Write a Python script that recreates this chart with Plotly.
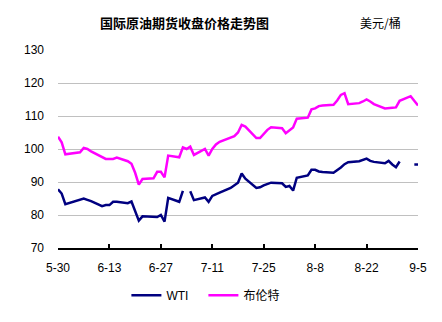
import plotly.graph_objects as go

# Trading days (weekdays) from 2012-05-30 to 2012-09-05
dates = [
    "2012-05-30", "2012-05-31", "2012-06-01",
    "2012-06-04", "2012-06-05", "2012-06-06", "2012-06-07", "2012-06-08",
    "2012-06-11", "2012-06-12", "2012-06-13", "2012-06-14", "2012-06-15",
    "2012-06-18", "2012-06-19", "2012-06-20", "2012-06-21", "2012-06-22",
    "2012-06-25", "2012-06-26", "2012-06-27", "2012-06-28", "2012-06-29",
    "2012-07-02", "2012-07-03", "2012-07-04", "2012-07-05", "2012-07-06",
    "2012-07-09", "2012-07-10", "2012-07-11", "2012-07-12", "2012-07-13",
    "2012-07-16", "2012-07-17", "2012-07-18", "2012-07-19", "2012-07-20",
    "2012-07-23", "2012-07-24", "2012-07-25", "2012-07-26", "2012-07-27",
    "2012-07-30", "2012-07-31", "2012-08-01", "2012-08-02", "2012-08-03",
    "2012-08-06", "2012-08-07", "2012-08-08", "2012-08-09", "2012-08-10",
    "2012-08-13", "2012-08-14", "2012-08-15", "2012-08-16", "2012-08-17",
    "2012-08-20", "2012-08-21", "2012-08-22", "2012-08-23", "2012-08-24",
    "2012-08-27", "2012-08-28", "2012-08-29", "2012-08-30", "2012-08-31",
    "2012-09-03", "2012-09-04", "2012-09-05",
]

wti = [
    87.8, 86.5, 83.3,
    84.2, 84.6, 85.0, 84.6, 84.2,
    82.7, 83.0, 83.0, 84.0, 84.0,
    83.6, 84.1, 81.4, 78.3, 79.6,
    79.4, 79.4, 80.0, 78.0, 85.2,
    84.0, 87.3, None, 87.2, 84.5,
    85.3, 84.0, 85.8, 86.2, 86.8,
    88.2, 89.1, 89.8, 92.6, 91.0,
    88.2, 88.4, 89.0, 89.3, 89.8,
    89.6, 88.5, 88.8, 87.4, 91.3,
    92.0, 93.7, 93.7, 93.2, 93.0,
    92.8, 93.5, 94.4, 95.4, 96.0,
    96.3, 96.6, 97.1, 96.4, 96.1,
    95.7, 96.4, 95.3, 94.5, 96.2,
    None, 95.3, 95.3,
]

brent = [
    103.7, 102.0, 98.4,
    98.9, 99.0, 100.3, 100.0, 99.3,
    97.7, 97.0, 97.0, 97.0, 97.4,
    96.3, 95.5, 92.8, 89.2, 90.9,
    91.1, 93.1, 93.1, 91.4, 98.0,
    97.5, 100.5, 100.0, 100.7, 98.2,
    100.0, 98.0, 100.0, 101.4, 102.2,
    103.4, 103.9, 105.0, 107.3, 106.8,
    103.3, 103.3, 104.6, 105.8, 106.6,
    106.3, 104.8, 105.8, 106.5, 109.2,
    109.5, 112.0, 112.3, 113.0, 113.2,
    113.4, 114.7, 116.4, 116.9, 113.6,
    113.9, 114.4, 115.0, 114.4, 113.6,
    112.3, 112.3, 112.5, 112.6, 114.6,
    116.0, 114.5, 113.2,
]

tick_dates = ["2012-05-30", "2012-06-13", "2012-06-27", "2012-07-11",
              "2012-07-25", "2012-08-08", "2012-08-22", "2012-09-05"]
tick_labels = ["5-30", "6-13", "6-27", "7-11", "7-25", "8-8", "8-22", "9-5"]

y_ticks = [70, 80, 90, 100, 110, 120, 130]

title_text = "国际原油期货收盘价格走势图"
unit_text = "美元/桶"

fig = go.Figure()
fig.add_trace(go.Scatter(
    x=dates, y=wti, mode="lines", name="WTI",
    line=dict(color="#000080", width=2.5),
))
fig.add_trace(go.Scatter(
    x=dates, y=brent, mode="lines", name="布伦特",
    line=dict(color="#FF00FF", width=2.5),
))

fig.update_layout(
    width=442, height=322,
    margin=dict(l=58, r=24, t=50, b=72),
    paper_bgcolor="white", plot_bgcolor="white",
    font=dict(family="Arial, Liberation Sans, sans-serif", size=12, color="black"),
    showlegend=True,
    legend=dict(
        orientation="h", x=0.19, xanchor="left", y=-0.165, yanchor="top",
        font=dict(family="Arial, Liberation Sans, Noto Sans CJK SC", size=12),
        bgcolor="rgba(0,0,0,0)", itemwidth=30,
        entrywidth=32, entrywidthmode="pixels",
    ),
    xaxis=dict(
        type="date",
        range=["2012-05-30", "2012-09-05"],
        tickvals=tick_dates, ticktext=tick_labels,
        showgrid=False, zeroline=False,
        showline=True, linecolor="black", linewidth=2,
        ticks="inside", ticklen=4, tickwidth=2, tickcolor="black",
        ticklabelstandoff=8,
        tickfont=dict(size=12),
    ),
    yaxis=dict(
        range=[70, 130], tickvals=y_ticks,
        showgrid=True, gridcolor="#c0c0c0", gridwidth=1,
        zeroline=False, showline=False, ticks="",
        ticklabelstandoff=13,
        tickfont=dict(size=12),
    ),
    annotations=[
        dict(text="<b>" + title_text + "</b>", xref="paper", yref="paper",
             x=0.35, y=1.14, xanchor="center", yanchor="middle",
             showarrow=False,
             font=dict(family="Noto Sans CJK SC", size=13, color="black")),
        dict(text=unit_text, xref="paper", yref="paper",
             x=0.897, y=1.14, xanchor="center", yanchor="middle",
             showarrow=False,
             font=dict(family="Noto Sans CJK SC", size=12, color="black")),
    ],
)

fig.write_html("out.html")
